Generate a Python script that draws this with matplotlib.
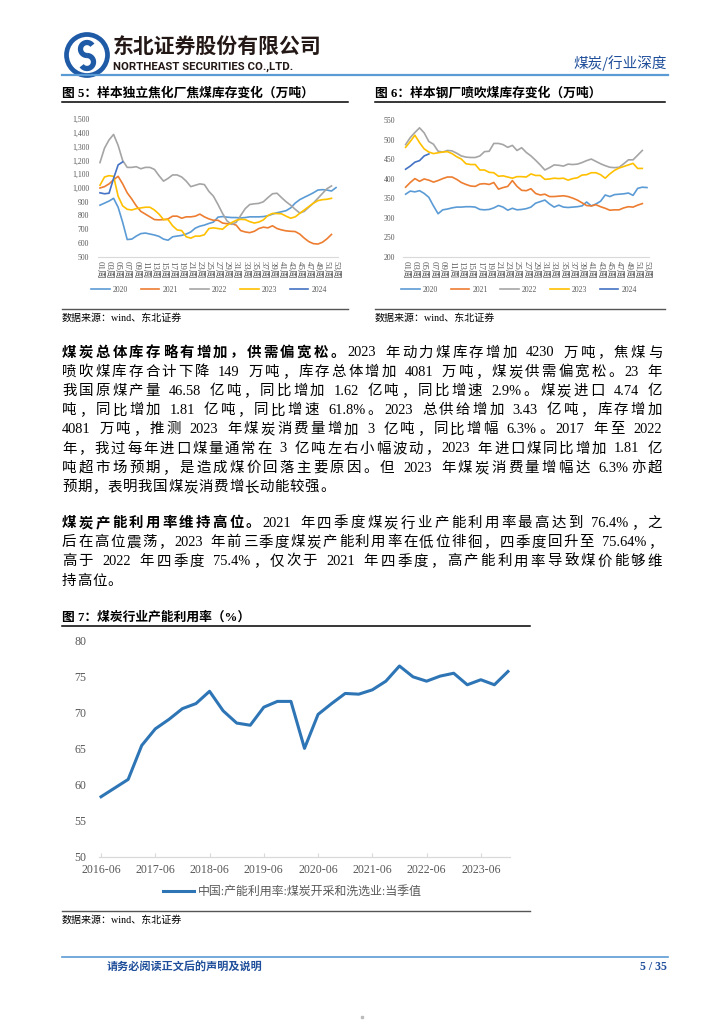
import numpy as np
import matplotlib
matplotlib.use("Agg")
import matplotlib.pyplot as plt
from matplotlib.patches import Circle

FONT = ['Liberation Serif', 'Noto Sans CJK SC']
CJK = ['Noto Sans CJK SC', 'DejaVu Sans']
nan = np.nan

# ---------------- data ----------------
weeks = list(range(1, 54))
week_labels = ["%02d周" % w for w in range(1, 54, 2)]
years = ["2020", "2021", "2022", "2023", "2024"]
colors = ["#5B9BD5", "#ED7D31", "#A5A5A5", "#FFC000", "#4472C4"]

coke_2020 = [875, 890, 905, 925, 860, 750, 625, 628, 650, 668, 672, 665, 658, 648, 628, 620, 645, 650,
             655, 665, 680, 708, 722, 730, 742, 752, 788, 792, 788, 785, 785, 782, 785, 790, 790, 790,
             792, 798, 810, 820, 827, 835, 855, 890, 915, 932, 948, 965, 985, 988, 985, 978, 1003]
coke_2021 = [1000, 1010, 1030, 1060, 1085, 1030, 965, 920, 870, 830, 810, 790, 770, 768, 770, 775, 795,
             795, 780, 790, 790, 795, 810, 790, 775, 765, 765, 745, 740, 740, 730, 690, 680, 675, 685,
             705, 715, 710, 725, 705, 695, 688, 685, 683, 665, 635, 610, 595, 592, 605, 630, 662, nan]
coke_2022 = [1185, 1290, 1350, 1390, 1310, 1200, 1150, 1150, 1155, 1140, 1150, 1150, 1135, 1090, 1050,
             1070, 1095, 1095, 1080, 1050, 1010, 1020, 1030, 1025, 975, 940, 880, 815, 760, 735, 750,
             800, 850, 880, 885, 888, 900, 930, 958, 962, 930, 900, 875, 845, 818, 830, 860, 890, 925,
             960, 995, 1015, nan]
coke_2023 = [1020, 1080, 1090, 1085, 940, 870, 845, 840, 850, 855, 860, 860, 840, 810, 770, 770, 725,
             695, 690, 645, 635, 650, 650, 660, 705, 710, 705, 700, 728, 748, 765, 772, 770, 755, 745,
             752, 768, 800, 815, 814, 812, 795, 780, 790, 815, 840, 865, 889, 908, 915, 918, 925, nan]
coke_2024 = [965, 958, 962, 1070, 1168, 1190] + [nan] * 47

pci_2020 = [360, 368, 366, 369, 362, 352, 330, 310, 320, 322, 325, 327, 327, 328, 328, 327, 321, 320,
            321, 325, 331, 327, 319, 324, 320, 321, 323, 327, 337, 341, 345, 335, 327, 332, 327, 326,
            327, 328, 330, 340, 330, 335, 342, 358, 354, 359, 360, 361, 363, 357, 375, 378, 377]
pci_2021 = [378, 390, 400, 393, 399, 396, 391, 395, 400, 404, 404, 398, 390, 385, 381, 380, 386, 387,
            385, 390, 373, 377, 380, 395, 380, 370, 369, 374, 362, 358, 360, 354, 354, 355, 356, 354,
            350, 345, 338, 331, 330, 333, 328, 324, 319, 320, 320, 325, 328, 327, 332, 336, nan]
pci_2022 = [487, 505, 518, 530, 517, 495, 488, 470, 468, 472, 471, 465, 458, 455, 454, 454, 458, 469,
            470, 490, 490, 487, 480, 485, 472, 479, 467, 458, 447, 435, 422, 428, 435, 434, 432, 437,
            436, 437, 441, 446, 450, 444, 438, 433, 429, 428, 429, 438, 448, 448, 460, 472, nan]
pci_2023 = [480, 495, 511, 492, 476, 468, 464, 466, 468, 469, 464, 456, 450, 438, 436, 436, 422, 422,
            416, 415, 406, 407, 404, 401, 405, 405, 404, 412, 408, 408, 398, 399, 401, 400, 401, 396,
            400, 402, 409, 410, 415, 415, 410, 401, 412, 421, 427, 431, 435, 439, 426, 426, nan]
pci_2024 = [424, 432, 442, 446, 458, 463] + [nan] * 47

quarters = ["2016-06", "2016-09", "2016-12", "2017-03", "2017-06", "2017-09", "2017-12", "2018-03",
            "2018-06", "2018-09", "2018-12", "2019-03", "2019-06", "2019-09", "2019-12", "2020-03",
            "2020-06", "2020-09", "2020-12", "2021-03", "2021-06", "2021-09", "2021-12", "2022-03",
            "2022-06", "2022-09", "2022-12", "2023-03", "2023-06", "2023-09", "2023-12"]
utilization = [58.3, 59.5, 60.7, 65.4, 67.7, 69.0, 70.5, 71.2, 72.9, 70.2, 68.5, 68.2, 70.7, 71.5, 71.5,
               65.0, 69.7, 71.2, 72.6, 72.5, 73.1, 74.3, 76.4, 74.9, 74.3, 75.0, 75.4, 73.8, 74.5, 73.8,
               75.64]
util_ticks = ["2016-06", "2017-06", "2018-06", "2019-06", "2020-06", "2021-06", "2022-06", "2023-06"]

para1 = [
    [("煤炭总体库存略有增加，供需偏宽松。", "bold"), ("2023 年动力煤库存增加 4230 万吨，焦煤与", "normal")],
    [("喷吹煤库存合计下降 149 万吨，库存总体增加 4081 万吨，煤炭供需偏宽松。23 年", "normal")],
    [("我国原煤产量 46.58 亿吨，同比增加 1.62 亿吨，同比增速 2.9%。煤炭进口 4.74 亿", "normal")],
    [("吨，同比增加 1.81 亿吨，同比增速 61.8%。2023 总供给增加 3.43 亿吨，库存增加", "normal")],
    [("4081 万吨，推测 2023 年煤炭消费量增加 3 亿吨，同比增幅 6.3%。2017 年至 2022", "normal")],
    [("年，我过每年进口煤量通常在 3 亿吨左右小幅波动，2023 年进口煤同比增加 1.81 亿", "normal")],
    [("吨超市场预期，是造成煤价回落主要原因。但 2023 年煤炭消费量增幅达 6.3%亦超", "normal")],
    [("预期，表明我国煤炭消费增长动能较强。", "normal")],
]
para2 = [
    [("煤炭产能利用率维持高位。", "bold"), ("2021 年四季度煤炭行业产能利用率最高达到 76.4%，之", "normal")],
    [("后在高位震荡，2023 年前三季度煤炭产能利用率在低位徘徊，四季度回升至 75.64%，", "normal")],
    [("高于 2022 年四季度 75.4%，仅次于 2021 年四季度，高产能利用率导致煤价能够维", "normal")],
    [("持高位。", "normal")],
]

# ---------------- figure ----------------
W, H = 724, 1024
fig = plt.figure(figsize=(W / 100, H / 100), dpi=100)
fig.patch.set_facecolor("white")
bg = fig.add_axes([0, 0, 1, 1])
bg.set_xlim(0, W)
bg.set_ylim(H, 0)
bg.axis("off")
renderer = fig.canvas.get_renderer()

BLUE = "#1F5AA6"

# header logo
bg.add_patch(Circle((87, 55), 20.5, fill=False, ec=BLUE, lw=3.4))
t = np.radians(np.linspace(35, 270, 40))
bg.plot(87 + 6.5 * np.cos(t), 49 - 6.5 * np.sin(t), color=BLUE, lw=3.8, solid_capstyle="butt")
t = np.radians(np.linspace(90, -145, 40))
bg.plot(87 + 6.5 * np.cos(t), 62 - 6.5 * np.sin(t), color=BLUE, lw=3.8, solid_capstyle="butt")
bg.text(113, 47, "东北证券股份有限公司", family=CJK, fontsize=15, fontweight="bold",
        color="#231815", va="center", ha="left")
bg.text(113, 67, "NORTHEAST SECURITIES CO.,LTD.", family=["Roboto", "DejaVu Sans"], fontsize=8.2,
        fontweight="bold", color="#231815", va="center", ha="left")
bg.text(667, 63, "煤炭/行业深度", family=CJK, fontsize=10.5, color="#1F4E9A", va="center", ha="right")
bg.plot([62, 668], [75, 75], color="#5B9BD5", lw=1.6)

# figure titles & rules
def fig_title(x, y, s, x2):
    bg.text(x, y, s, family=FONT, fontsize=9.2, fontweight="bold", color="black", va="center", ha="left")
    bg.plot([x, x2], [y + 9, y + 9], color="black", lw=1.1)

def source(x, y, x2):
    bg.plot([x, x2], [y - 9, y - 9], color="#555555", lw=1.0)
    bg.text(x, y, "数据来源：wind、东北证券", family=FONT, fontsize=7.2, color="black", va="center", ha="left")

fig_title(62, 93, "图 5：样本独立焦化厂焦煤库存变化（万吨）", 348)
fig_title(375, 93, "图 6：样本钢厂喷吹煤库存变化（万吨）", 665)
source(62, 318, 348)
source(375, 318, 665)
fig_title(62, 617, "图 7：煤炭行业产能利用率（%）", 530)
source(62, 920, 530)

# justified paragraphs
def place_line(x0, x1, yc, segs, fs, justify):
    tokens = []
    for s, w in segs:
        buf = ""
        for ch in s:
            if ch.isascii() and ch != " ":
                buf += ch
            else:
                if buf:
                    tokens.append((buf, w))
                    buf = ""
                tokens.append((ch, w))
        if buf:
            tokens.append((buf, w))
    arts, widths = [], []
    for tok, w in tokens:
        a = bg.text(0, yc, tok, fontsize=fs, fontweight=w, family=FONT, va="center", ha="left", color="black")
        arts.append(a)
        if tok == " ":
            widths.append(fs * 1.39 * 0.3)
        else:
            widths.append(a.get_window_extent(renderer).width)
    extra = (x1 - x0 - sum(widths)) / (len(arts) - 1) if justify else 0.8
    x = x0
    for a, wd in zip(arts, widths):
        a.set_x(x)
        x += wd + extra

FS = 10.4
y = 353
for i, ln in enumerate(para1):
    place_line(62, 662, y, ln, FS, i < len(para1) - 1)
    y += 19.2
y = 523.5
for i, ln in enumerate(para2):
    place_line(62, 662, y, ln, FS, i < len(para2) - 1)
    y += 19.2

# ---------------- small charts ----------------
TICKC = "#595959"

def small_chart(rect, series, ylim, ystep, fmt, legend_center):
    ax = fig.add_axes(rect)
    ax.set_facecolor("none")
    for vals, c, lab in zip(series, colors, years):
        ax.plot(weeks, vals, color=c, lw=1.2, label=lab)
    ax.set_xlim(0.5, 53.5)
    ax.set_ylim(*ylim)
    ax.set_yticks(np.arange(ylim[0], ylim[1] + 1, ystep))
    ax.set_yticklabels([fmt(v) for v in np.arange(ylim[0], ylim[1] + 1, ystep)])
    ax.set_xticks(range(1, 54, 2))
    ax.set_xticklabels(week_labels, rotation=270)
    for sp in ["top", "left", "right"]:
        ax.spines[sp].set_visible(False)
    ax.spines["bottom"].set_color("#D9D9D9")
    ax.spines["bottom"].set_linewidth(0.8)
    ax.tick_params(axis="both", length=0, colors=TICKC)
    ax.tick_params(axis="y", pad=6)
    ax.tick_params(axis="x", pad=3)
    for lb in ax.get_yticklabels():
        lb.set_fontfamily(FONT)
        lb.set_fontsize(5.6)
    for lb in ax.get_xticklabels():
        lb.set_fontfamily(FONT)
        lb.set_fontsize(6.4)
        lb.set_va("top")
        lb.set_ha("center")
    leg = ax.legend(loc="center", bbox_to_anchor=legend_center, bbox_transform=fig.transFigure, ncol=5,
                    frameon=False, prop={"family": FONT, "size": 5.6}, handlelength=2.4,
                    columnspacing=1.6, handletextpad=0.4)
    for tx in leg.get_texts():
        tx.set_color(TICKC)
    return ax

small_chart([97.7 / W, 1 - 256.7 / H, 240.6 / W, 137.4 / H],
            [coke_2020, coke_2021, coke_2022, coke_2023, coke_2024], (500, 1500), 100,
            lambda v: "{:,}".format(int(v)), (209 / W, 1 - 290 / H))
small_chart([403.3 / W, 1 - 256.7 / H, 246 / W, 136.7 / H],
            [pci_2020, pci_2021, pci_2022, pci_2023, pci_2024], (200, 550), 50,
            lambda v: "%d" % v, (519 / W, 1 - 290 / H))

# ---------------- big chart ----------------
ax7 = fig.add_axes([99 / W, 1 - 856.7 / H, 411 / W, 216.7 / H])
ax7.set_facecolor("none")
xq = np.arange(len(quarters))
ax7.plot(xq, utilization, color="#2E75B6", lw=2.2, label="中国:产能利用率:煤炭开采和洗选业:当季值")
ax7.set_xlim(-0.15, 30.15)
ax7.set_ylim(50, 80)
ax7.set_yticks(range(50, 81, 5))
ax7.set_xticks([quarters.index(q) for q in util_ticks])
ax7.set_xticklabels(util_ticks)
for sp in ["top", "left", "right"]:
    ax7.spines[sp].set_visible(False)
ax7.spines["bottom"].set_color("#D9D9D9")
ax7.spines["bottom"].set_linewidth(0.9)
ax7.tick_params(axis="y", length=0, pad=9, colors=TICKC, labelsize=8.6)
ax7.tick_params(axis="x", direction="in", length=3, color="#D9D9D9", colors=TICKC, labelsize=8.6, pad=5)
ax7.tick_params(axis="x", color="#D9D9D9")
for lb in ax7.get_xticklabels() + ax7.get_yticklabels():
    lb.set_fontfamily(FONT)
leg = ax7.legend(loc="center", bbox_to_anchor=(292 / W, 1 - 892 / H), bbox_transform=fig.transFigure,
                 frameon=False, prop={"family": FONT, "size": 8.6}, handlelength=2.6, handletextpad=0.3)
for tx in leg.get_texts():
    tx.set_color(TICKC)

# ---------------- footer ----------------
bg.plot([62, 668], [957, 957], color="#5B9BD5", lw=1.2)
bg.text(107, 967, "请务必阅读正文后的声明及说明", family=CJK, fontsize=8, fontweight="bold",
        color="#1F4E9A", va="center", ha="left")
bg.text(667, 967, "5 / 35", family=FONT, fontsize=8.5, fontweight="bold", color="#1F4E9A",
        va="center", ha="right")
bg.plot([362], [1017], marker="s", ms=1.5, color="#BBBBBB")

fig.savefig("out.png", dpi=100)
